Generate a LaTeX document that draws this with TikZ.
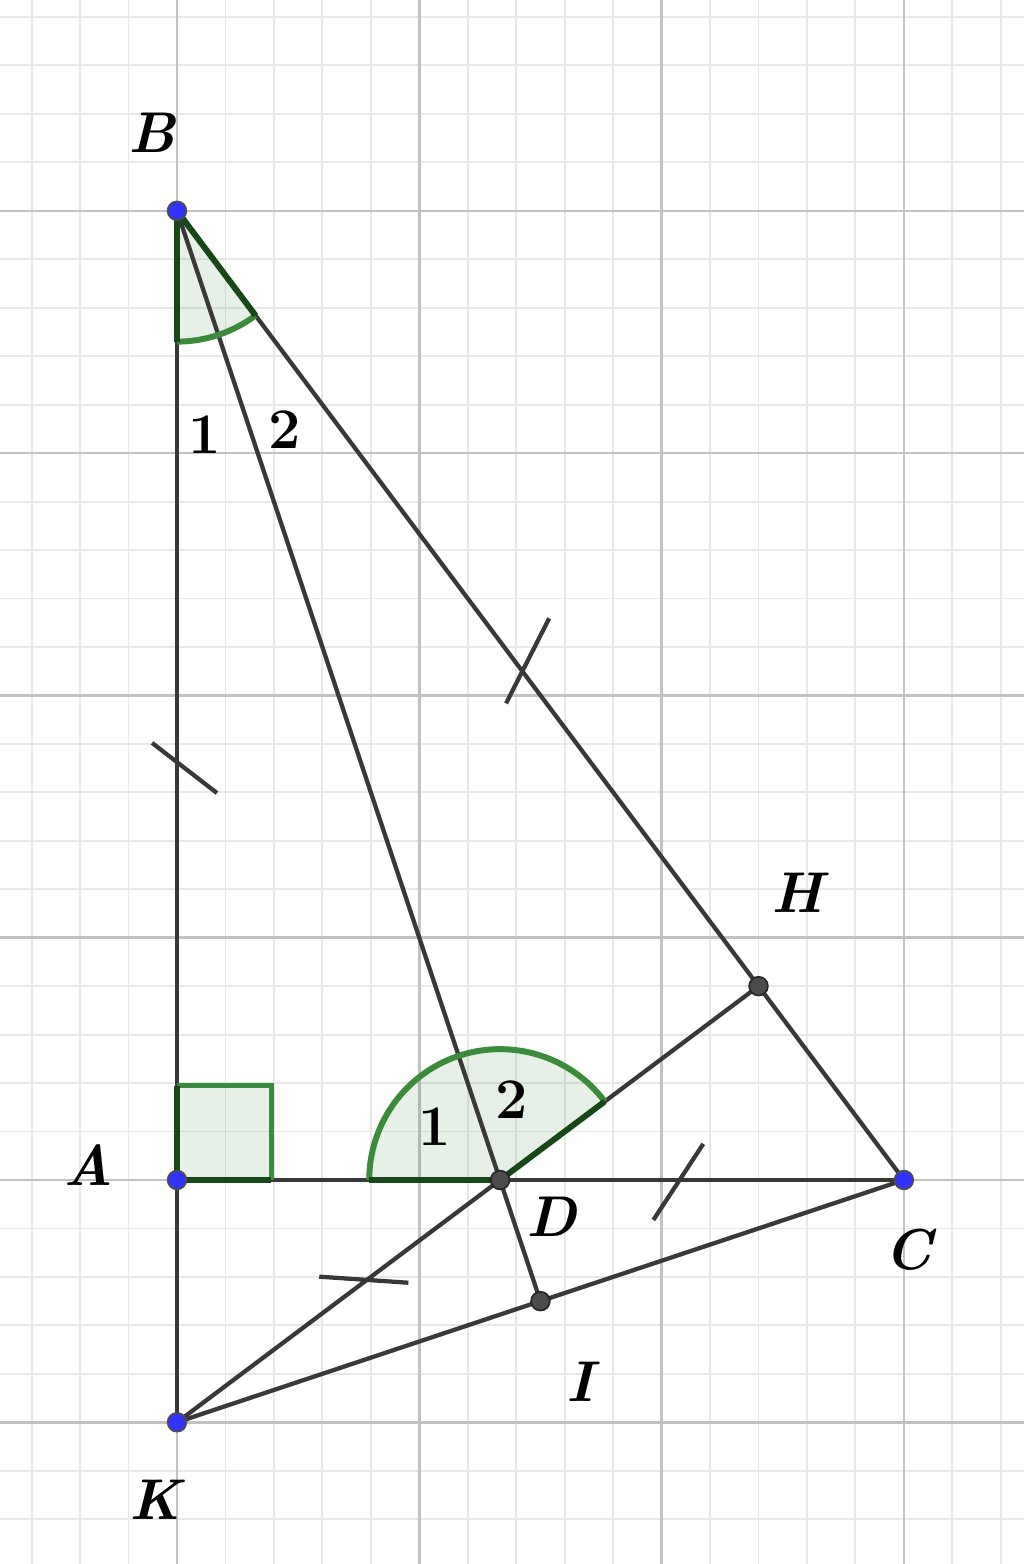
\documentclass[tikz,border=0pt]{standalone}
\usepackage{fontspec}
\setmainfont{Latin Modern Roman}
\definecolor{arcgreen}{RGB}{58,140,58}
\definecolor{edgegreen}{RGB}{24,72,24}
\begin{document}
\begin{tikzpicture}[x=2cm,y=2cm,
  minorgrid/.style={draw=black!9,line width=0.45pt},
  majorgrid/.style={draw=black!24,line width=0.6pt},
  seg/.style={draw=black!78,line width=1pt},
  tickmark/.style={draw=black!78,line width=1pt},
  sectorfill/.style={fill=arcgreen,fill opacity=0.13},
  sectorarc/.style={draw=arcgreen,line width=1.4pt},
  sectoredge/.style={draw=edgegreen,line width=1.4pt},
  freept/.style={circle,fill=blue!80!white,draw=black!70,line width=0.4pt,inner sep=0pt,minimum size=4.4pt},
  deppt/.style={circle,fill=black!70,draw=black!85,line width=0.4pt,inner sep=0pt,minimum size=4.4pt},
  ptlabel/.style={font=\fontsize{13.5}{16}\selectfont\bfseries\itshape,inner sep=0pt},
  anglabel/.style={font=\fontsize{13.5}{16}\selectfont\bfseries,inner sep=0pt}
]
% bounding box
\useasboundingbox (-0.7305,-1.5848) rectangle (3.4957,4.8700);
% grid
\foreach \x in {-0.6,-0.4,-0.2,0.2,0.4,0.6,0.8,1.2,1.4,1.6,1.8,2.2,2.4,2.6,2.8,3.2,3.4}
  \draw[minorgrid] (\x,-1.5848) -- (\x,4.87);
\foreach \y in {-1.4,-1.2,-0.8,-0.6,-0.4,-0.2,0.2,0.4,0.6,0.8,1.2,1.4,1.6,1.8,2.2,2.4,2.6,2.8,3.2,3.4,3.6,3.8,4.2,4.4,4.6,4.8}
  \draw[minorgrid] (-0.7305,\y) -- (3.4957,\y);
\foreach \x in {0,1,2,3}
  \draw[majorgrid] (\x,-1.5848) -- (\x,4.87);
\foreach \y in {-1,0,1,2,3,4}
  \draw[majorgrid] (-0.7305,\y) -- (3.4957,\y);
% points
\coordinate (A) at (0,0);
\coordinate (B) at (0,4);
\coordinate (C) at (3,0);
\coordinate (K) at (0,-1);
\coordinate (D) at (4/3,0);
\coordinate (H) at (2.4,0.8);
\coordinate (I) at (1.5,-0.5);
% sector fills
\fill[sectorfill] (B) -- ++(-90:0.54) arc[start angle=-90,end angle=-53.13,radius=0.54] -- cycle;
\fill[sectorfill] (D) -- ++(36.87:0.54) arc[start angle=36.87,end angle=180,radius=0.54] -- cycle;
\fill[sectorfill] (A) rectangle (0.39,0.39);
% segments
\draw[seg] (B) -- (K);
\draw[seg] (A) -- (C);
\draw[seg] (B) -- (C);
\draw[seg] (B) -- (I);
\draw[seg] (K) -- (H);
\draw[seg] (K) -- (C);
% sector borders
\draw[sectorarc] (B) ++(-90:0.54) arc[start angle=-90,end angle=-53.13,radius=0.54];
\draw[sectoredge] (B) -- ++(-90:0.54);
\draw[sectoredge] (B) -- ++(-53.13:0.54);
\draw[sectorarc] (D) ++(36.87:0.54) arc[start angle=36.87,end angle=180,radius=0.54];
\draw[sectoredge] (D) -- ++(180:0.54);
\draw[sectoredge] (D) -- ++(36.87:0.54);
\draw[sectorarc] (0,0.39) -- (0.39,0.39) -- (0.39,0);
\draw[sectoredge] (0,0.39) -- (A) -- (0.39,0);
% tick marks
\coordinate (t1a) at (-0.103,1.804); \coordinate (t1b) at (0.165,1.597);
\coordinate (t2a) at (1.536,2.318); \coordinate (t2b) at (1.358,1.967);
\coordinate (t3a) at (2.172,0.149); \coordinate (t3b) at (1.966,-0.165);
\coordinate (t4a) at (0.587,-0.399); \coordinate (t4b) at (0.955,-0.424);
\draw[tickmark] (t1a) -- (t1b);
\draw[tickmark] (t2a) -- (t2b);
\draw[tickmark] (t3a) -- (t3b);
\draw[tickmark] (t4a) -- (t4b);
% point dots
\node[freept] (pA) at (A) {};
\node[freept] (pB) at (B) {};
\node[freept] (pC) at (C) {};
\node[freept] (pK) at (K) {};
\node[deppt] (pD) at (D) {};
\node[deppt] (pH) at (H) {};
\node[deppt] (pI) at (I) {};
% labels
\node[ptlabel] (lB) at (-0.103,4.323) {B};
\node[ptlabel] (lA) at (-0.367,0.062) {A};
\node[ptlabel] (lC) at (3.017,-0.289) {C};
\node[ptlabel] (lK) at (-0.091,-1.321) {K};
\node[ptlabel] (lD) at (1.548,-0.153) {D};
\node[ptlabel] (lH) at (2.559,1.185) {H};
\node[ptlabel] (lI) at (1.663,-0.834) {I};
\node[anglabel] (b1) at (0.116,3.075) {1};
\node[anglabel] (b2) at (0.446,3.095) {2};
\node[anglabel] (d1) at (1.065,0.219) {1};
\node[anglabel] (d2) at (1.383,0.330) {2};
\end{tikzpicture}
\end{document}
